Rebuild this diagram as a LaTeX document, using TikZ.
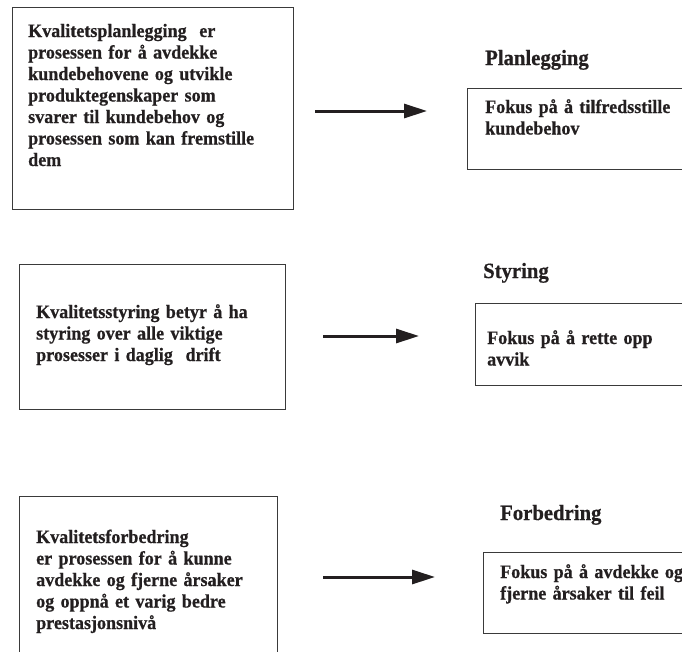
\documentclass[tikz,border=0pt]{standalone}
\usepackage{fontspec}
\setmainfont{Liberation Serif}[FakeStretch=0.95,FakeBold=0.6]
\usetikzlibrary{arrows.meta}
\definecolor{ink}{HTML}{231F20}
\definecolor{rule}{HTML}{3A3A3A}
\begin{document}
\begin{tikzpicture}[x=1pt,y=-1pt,
  frame/.style={draw=rule,line width=1.4pt,rectangle,inner sep=0pt,anchor=north west},
  body/.style={text=ink,inner sep=0pt,anchor=base west,text width=260pt,align=left,
    font=\fontsize{19}{21.5}\selectfont\bfseries},
  heading/.style={text=ink,inner sep=0pt,anchor=base west,
    font=\fontsize{21.8}{24}\selectfont\bfseries},
  arrowline/.style={draw=ink,line width=3pt,-{Triangle[length=23pt,width=14pt]}}]
  \path[use as bounding box,clip] (0,0) rectangle (682,651);
  \fill[white] (0,0) rectangle (682,651);

  % left column: definitions
  \node[frame,minimum width=281pt,minimum height=202pt] (a1) at (12,7) {};
  \node[frame,minimum width=266pt,minimum height=145pt] (a2) at (19,264) {};
  \node[frame,minimum width=258pt,minimum height=180pt] (a3) at (19,496) {};

  \node[body] (t1) at (28,37) {Kvalitetsplanlegging~ er\\prosessen for å avdekke\\kundebehovene og utvikle\\produktegenskaper som\\svarer til kundebehov og\\prosessen som kan fremstille\\dem};
  \node[body] (t2) at (36,318) {Kvalitetsstyring betyr å ha\\styring over alle viktige\\prosesser i daglig~ drift};
  \node[body] (t3) at (36,543) {Kvalitetsforbedring\\er prosessen for å kunne\\avdekke og fjerne årsaker\\og oppnå et varig bedre\\prestasjonsnivå};

  % right column: focus of each process
  \node[heading] (h1) at (485,65) {Planlegging};
  \node[heading] (h2) at (483,278) {Styring};
  \node[heading] (h3) at (500,520) {Forbedring};

  \node[frame,minimum width=240pt,minimum height=81pt] (b1) at (467,88) {};
  \node[frame,minimum width=240pt,minimum height=82pt] (b2) at (475,303) {};
  \node[frame,minimum width=240pt,minimum height=81pt] (b3) at (483,552) {};

  \node[body] (f1) at (485,113) {Fokus på å tilfredsstille\\kundebehov};
  \node[body] (f2) at (487,344) {Fokus på å rette opp\\avvik};
  \node[body] (f3) at (500,578) {Fokus på å avdekke og\\fjerne årsaker til feil};

  % arrows
  \coordinate (s1) at (315,111); \coordinate (e1) at (427,111);
  \coordinate (s2) at (323,336); \coordinate (e2) at (419,336);
  \coordinate (s3) at (323,577); \coordinate (e3) at (435,577);
  \draw[arrowline] (s1) -- (e1);
  \draw[arrowline] (s2) -- (e2);
  \draw[arrowline] (s3) -- (e3);
\end{tikzpicture}
\end{document}
